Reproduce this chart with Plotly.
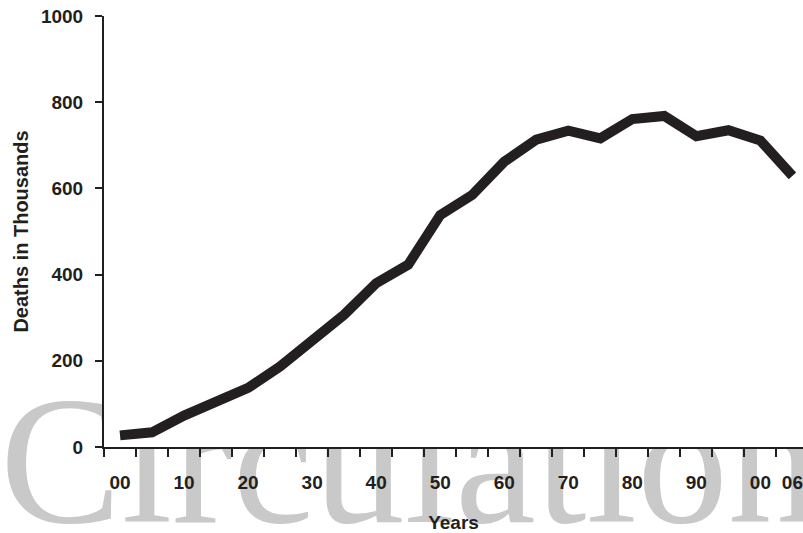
import plotly.graph_objects as go

years = ["1900", "1905", "1910", "1915", "1920", "1925", "1930", "1935", "1940",
         "1945", "1950", "1955", "1960", "1965", "1970", "1975", "1980", "1985",
         "1990", "1995", "2000", "2006"]
deaths = [27, 34, 73, 102, 137, 187, 249, 307, 380, 423, 538, 585, 662, 713,
          734, 716, 761, 768, 721, 735, 711, 629]
tick_text = ["00", "", "10", "", "20", "", "30", "", "40", "", "50", "", "60", "",
             "70", "", "80", "", "90", "", "00", "06"]
y_ticks = [0, 200, 400, 600, 800, 1000]
watermark = "Circulation"

INK = "#231f20"
FONT = "Liberation Sans, Arial, sans-serif"
FS = 19

pos = list(range(len(years)))           # evenly spaced year slots
lab_pos = [p for p, t in zip(pos, tick_text) if t]
lab_txt = [f"<b>{t}</b>" for t in tick_text if t]
boundaries = [p - 0.5 for p in pos] + [pos[-1] + 0.5]
X_RANGE = [pos[0] - 0.5, pos[-1] + 0.33]
Y_RANGE = [y_ticks[0], y_ticks[-1]]

W, H = 803, 533
L, R, T, B = 104, 0, 16, 86
pw, ph = W - L - R, H - T - B
WM = 182


def dx(px):
    """page pixel -> x data value"""
    return X_RANGE[0] + (px - L) / pw * (X_RANGE[1] - X_RANGE[0])


def dy(py):
    """page pixel -> y data value"""
    return Y_RANGE[0] + (H - B - py) / ph * (Y_RANGE[1] - Y_RANGE[0])


fig = go.Figure()
# journal watermark (anchored inside the axes, drawn downward, unclipped)
fig.add_trace(go.Scatter(
    x=[dx(4.5 * WM / 2)], y=[dy(522 - 0.75 * WM)], mode="text", text=[watermark],
    textposition="bottom center", cliponaxis=False,
    textfont=dict(family="Liberation Serif, Times New Roman, serif",
                  size=WM, color="#c9c9c9"),
    hoverinfo="skip", showlegend=False,
))
# white plot area: hides the watermark inside the axes
fig.add_trace(go.Scatter(
    x=[X_RANGE[0], X_RANGE[1], X_RANGE[1], X_RANGE[0], X_RANGE[0]],
    y=[Y_RANGE[0], Y_RANGE[0], Y_RANGE[1], Y_RANGE[1], Y_RANGE[0]],
    mode="lines", line=dict(width=0, color="white"),
    fill="toself", fillcolor="white",
    hoverinfo="skip", showlegend=False,
))
fig.add_trace(go.Scatter(
    x=pos, y=deaths, mode="lines",
    line=dict(color=INK, width=10),
    customdata=years, hovertemplate="%{customdata}: %{y}<extra></extra>",
    showlegend=False,
))

fig.update_layout(
    width=W, height=H,
    margin=dict(l=L, r=R, t=T, b=B, pad=0),
    paper_bgcolor="white", plot_bgcolor="white",
    font=dict(family=FONT, color=INK),
    xaxis=dict(
        range=X_RANGE,
        tickmode="array", tickvals=lab_pos, ticktext=lab_txt, tickangle=0,
        ticks="outside", ticklen=17, tickwidth=1, tickcolor="rgba(0,0,0,0)",
        minor=dict(tickmode="array", tickvals=boundaries, ticks="outside",
                   ticklen=8, tickwidth=2, tickcolor=INK, showgrid=False),
        showline=True, linecolor=INK, linewidth=2,
        showgrid=False, zeroline=False,
        tickfont=dict(size=FS, family=FONT, color=INK),
        title=dict(text="<b>Years</b>", font=dict(size=FS, family=FONT, color=INK),
                   standoff=24),
        fixedrange=True,
    ),
    yaxis=dict(
        range=Y_RANGE,
        tickmode="array", tickvals=y_ticks, ticktext=[f"<b>{v}</b>" for v in y_ticks],
        ticks="outside", ticklen=7, tickwidth=2, tickcolor=INK,
        showline=True, linecolor=INK, linewidth=2,
        showgrid=False, zeroline=False,
        tickfont=dict(size=FS, family=FONT, color=INK),
        ticklabelstandoff=8,
        title=dict(text="<b>Deaths in Thousands</b>",
                   font=dict(size=20, family=FONT, color=INK), standoff=7),
        fixedrange=True,
    ),
)

fig.write_html(
    "out.html",
    config={"displayModeBar": False},
    post_script="document.body.style.margin='0';document.body.style.overflow='hidden';",
)
